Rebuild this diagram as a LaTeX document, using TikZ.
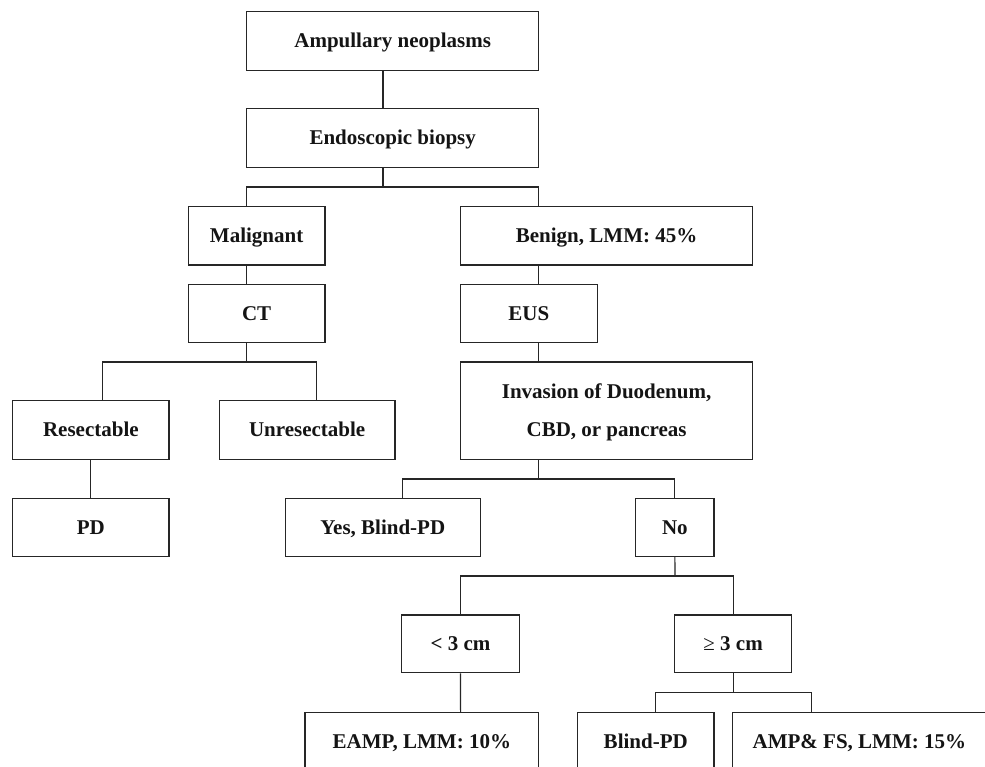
\documentclass[tikz,border=0pt]{standalone}
\usepackage{fontspec}
\setmainfont{Liberation Serif}
\begin{document}
\begin{tikzpicture}[x=1pt,y=-1pt,
  boxbase/.style={draw=black!85,line width=1.2pt,inner sep=0pt,minimum height=58.5pt,
    text=black!92,font=\fontsize{21}{38.3}\selectfont\bfseries,align=center},
  box/.style={boxbase,text height=13.9pt,text depth=0pt},
  conn/.style={draw=black!85,line width=1.2pt}]
\useasboundingbox (0,0) rectangle (985,766);
\clip (0,0) rectangle (985,766);
\fill[white] (0,0) rectangle (985,766);
% nodes
\node[box,minimum width=292pt] (amp) at (392.7,40.85) {Ampullary neoplasms};
\node[box,minimum width=292pt] (endo) at (392.7,138) {Endoscopic biopsy};
\node[box,minimum width=136.7pt] (mal) at (256.65,235.65) {Malignant};
\node[box,minimum width=292.2pt] (ben) at (606.6,235.65) {Benign, LMM: 45\%};
\node[box,minimum width=136.7pt] (ct) at (256.65,313.35) {CT};
\node[box,minimum width=136.8pt] (eus) at (528.9,313.35) {EUS};
\node[boxbase,minimum width=292.2pt,minimum height=97.3pt,text height=52.2pt,text depth=0pt] (inv) at (606.6,410.65) {Invasion of Duodenum,\\CBD, or pancreas};
\node[box,minimum width=156.3pt] (res) at (90.85,429.85) {Resectable};
\node[box,minimum width=175.7pt] (unres) at (307.15,429.85) {Unresectable};
\node[box,minimum width=156.3pt] (pd) at (90.85,527.35) {PD};
\node[box,minimum width=195pt] (yes) at (382.8,527.35) {Yes, Blind-PD};
\node[box,minimum width=78.3pt] (no) at (674.85,527.35) {No};
\node[box,minimum width=117.6pt,minimum height=57.7pt] (lt) at (460.5,643.85) {< 3 cm};
\node[box,minimum width=117.2pt,minimum height=57.7pt] (ge) at (733.1,643.85) {{\mdseries ≥} 3 cm};
\node[box,minimum width=233.7pt] (eamp) at (421.85,742) {EAMP, LMM: 10\%};
\node[box,minimum width=136.5pt] (blind) at (645.75,742) {Blind-PD};
\node[box,minimum width=253.3pt] (ampfs) at (859.35,742) {AMP\& FS, LMM: 15\%};
% tap points
\coordinate (ampB) at ([xshift=-9.7pt]amp.south);
\coordinate (endoT) at ([xshift=-9.7pt]endo.north);
\coordinate (endoB) at ([xshift=-9.7pt]endo.south);
\coordinate (malT) at ([xshift=-9.95pt]mal.north);
\coordinate (malB) at ([xshift=-9.95pt]mal.south);
\coordinate (ctT) at ([xshift=-9.95pt]ct.north);
\coordinate (ctB) at ([xshift=-9.95pt]ct.south);
\coordinate (benT) at ([xshift=-68.1pt]ben.north);
\coordinate (benB) at ([xshift=-68.1pt]ben.south);
\coordinate (eusT) at ([xshift=9.6pt]eus.north);
\coordinate (eusB) at ([xshift=9.6pt]eus.south);
\coordinate (invT) at ([xshift=-68.1pt]inv.north);
\coordinate (invB) at ([xshift=-68.1pt]inv.south);
\coordinate (resT) at ([xshift=11.85pt]res.north);
\coordinate (unresT) at ([xshift=9.55pt]unres.north);
\coordinate (yesT) at ([xshift=19.5pt]yes.north);
\coordinate (eampT) at ([xshift=38.75pt]eamp.north);
\coordinate (blindT) at ([xshift=9.55pt]blind.north);
\coordinate (ampfsT) at ([xshift=-47.85pt]ampfs.north);
% bus levels
\coordinate (bus1) at (383,187);
\coordinate (bus2) at (246.7,362);
\coordinate (bus3) at (538.5,479);
\coordinate (bus4) at (675,576);
\coordinate (bus5) at (733.1,692.7);
% connectors
\draw[conn] (ampB) -- (endoT);
\draw[conn] (endoB) -- (bus1);
\draw[conn] (malT) -- (malT |- bus1) -- (benT |- bus1) -- (benT);
\draw[conn] (malB) -- (ctT);
\draw[conn] (benB) -- (eusT);
\draw[conn] (eusB) -- (invT);
\draw[conn] (ctB) -- (bus2);
\draw[conn] (resT) -- (resT |- bus2) -- (unresT |- bus2) -- (unresT);
\draw[conn] (res) -- (pd);
\draw[conn] (invB) -- (bus3);
\draw[conn] (yesT) -- (yesT |- bus3) -- (no.north |- bus3) -- (no.north);
\draw[conn] (no.south) -- (bus4);
\draw[conn] (lt.north) -- (lt.north |- bus4) -- (ge.north |- bus4) -- (ge.north);
\draw[conn] (lt.south) -- (eampT);
\draw[conn] (ge.south) -- (bus5);
\draw[conn] (blindT) -- (blindT |- bus5) -- (ampfsT |- bus5) -- (ampfsT);
\end{tikzpicture}
\end{document}
